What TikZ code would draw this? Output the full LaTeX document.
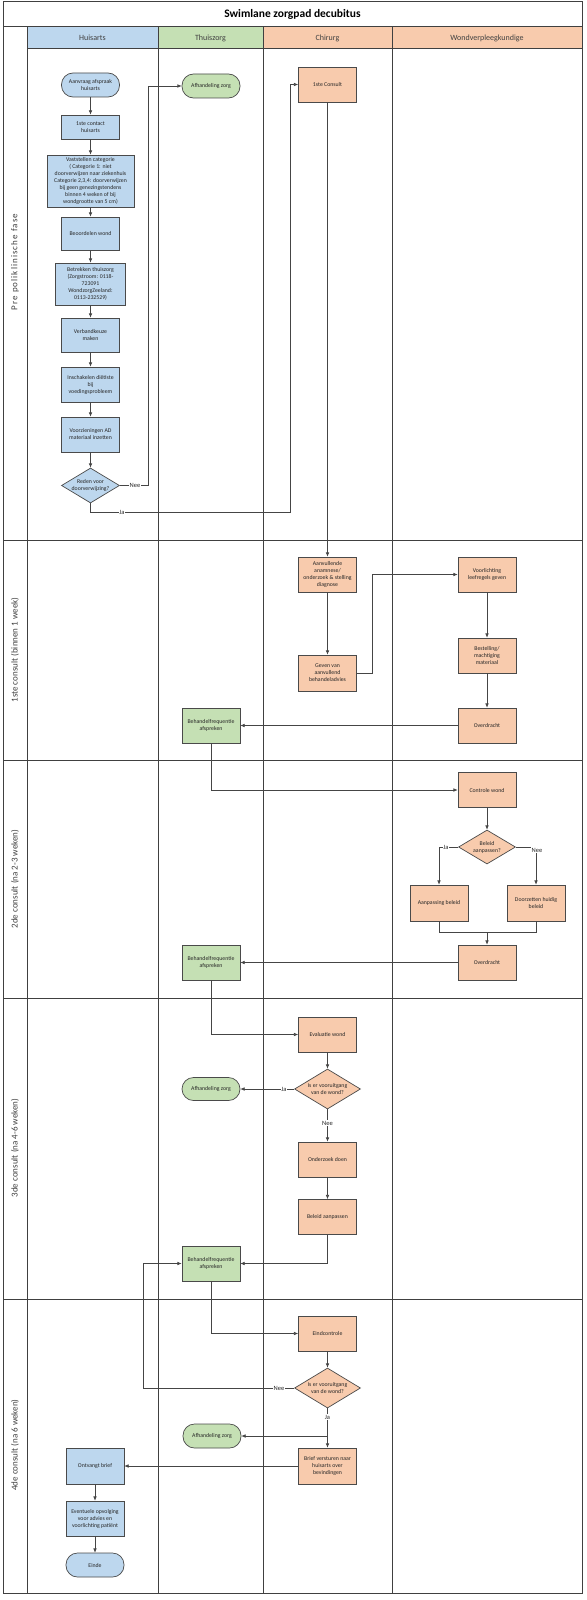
\documentclass[tikz,border=0pt]{standalone}
\usepackage{fontspec}
\setmainfont{Carlito}
\usetikzlibrary{arrows.meta,shapes.geometric}
\definecolor{blu}{HTML}{BDD7EE}
\definecolor{grn}{HTML}{C5E0B4}
\definecolor{org}{HTML}{F8CBAD}
\definecolor{bordc}{HTML}{4A4A4A}
\definecolor{lanec}{HTML}{404040}
\definecolor{linec}{HTML}{454545}
\definecolor{txtc}{HTML}{262626}
\newcommand{\nodefont}{\fontsize{5.8}{7}\selectfont}
\begin{document}
\begin{tikzpicture}[x=1pt,y=-1pt,
  box/.style={draw=bordc, line width=0.7pt, minimum width=58pt, minimum height=35pt, inner sep=1pt, align=center, font=\nodefont, text=txtc},
  hb/.style={box, fill=blu},
  gb/.style={box, fill=grn},
  ob/.style={box, fill=org},
  term/.style={box, rounded corners=11.5pt, minimum height=24pt},
  dia/.style={draw=bordc, line width=0.7pt, diamond, inner sep=0pt, minimum width=58pt, minimum height=35pt},
  dtxt/.style={align=center, font=\nodefont, text=txtc, inner sep=0pt},
  lane/.style={draw=lanec, line width=1pt},
  conn/.style={draw=linec, line width=0.6pt},
  arr/.style={conn, -{Latex[length=4.2pt,width=3.6pt]}},
  lbl/.style={fill=white, inner sep=0.6pt, font=\fontsize{6.5}{7.5}\selectfont, text=txtc},
  hdr/.style={font=\fontsize{8}{10}\selectfont, text=lanec},
  phase/.style={rotate=90, font=\fontsize{9}{11}\selectfont, text=lanec}
]
\useasboundingbox (0,0) rectangle (586,1600);
\fill[white] (0,0) rectangle (586,1600);
% header fills
\fill[blu] (27,27) rectangle (158,49);
\fill[grn] (158,27) rectangle (263,49);
\fill[org] (263,27) rectangle (392,49);
\fill[org] (392,27) rectangle (582,49);
% frame and lanes
\draw[lane] (3,2) rectangle (582,1593);
\draw[lane] (3,27) -- (582,27);
\draw[lane] (27,49) -- (582,49);
\draw[lane] (27,27) -- (27,1593);
\draw[lane] (158,27) -- (158,1593);
\draw[lane] (263,27) -- (263,1593);
\draw[lane] (392,27) -- (392,1593);
\draw[lane] (3,540) -- (582,540);
\draw[lane] (3,760) -- (582,760);
\draw[lane] (3,998) -- (582,998);
\draw[lane] (3,1299) -- (582,1299);
% title and headers
\node[font=\bfseries\fontsize{11.5}{13}\selectfont] (title) at (292.5,14.5) {Swimlane zorgpad decubitus};
\node[hdr] (hh) at (92.5,38) {Huisarts};
\node[hdr] (ht) at (210.5,38) {Thuiszorg};
\node[hdr] (hc) at (327.5,38) {Chirurg};
\node[hdr] (hw) at (487,38) {Wondverpleegkundige};
% phase labels
\node[phase] (p1) at (15,262) {\addfontfeature{LetterSpace=12}Pre poliklinische fase};
\node[phase] (p2) at (15,650) {1ste consult (binnen 1 week)};
\node[phase] (p3) at (15,879) {2de consult (na 2-3 weken)};
\node[phase] (p4) at (15,1148) {3de consult (na 4-6 weken)};
\node[phase] (p5) at (15,1445) {4de consult (na 6 weken)};

% ---- Pre poliklinische fase
\node[term, fill=blu] (h1) at (90.5,85) {Aanvraag afspraak\\huisarts};
\node[hb, minimum height=24pt] (h2) at (90.5,127) {1ste contact\\huisarts};
\node[hb, minimum width=87pt, minimum height=52pt, inner sep=0pt] (h3) at (90.5,181) {Vaststellen categorie\\( Categorie 1: niet\\doorverwijzen naar ziekenhuis\\Categorie 2,3,4: doorverwijzen\\bij geen genezingstendens\\binnen 4 weken of bij\\wondgrootte van 5 cm)};
\node[hb, minimum height=33pt] (h4) at (90.5,233.5) {Beoordelen wond};
\node[hb, minimum width=70pt, minimum height=42pt] (h5) at (90.5,284) {Betrekken thuiszorg\\(Zorgstroom: 0118-\\723091\\WondzorgZeeland:\\0113-232529)};
\node[hb, minimum height=34pt] (h6) at (90.5,335) {Verbandkeuze\\maken};
\node[hb] (h7) at (90.5,384.5) {Inschakelen diëtiste\\bij\\voedingsprobleem};
\node[hb] (h8) at (90.5,434.5) {Voorzieningen AD\\materiaal inzetten};
\node[dia, fill=blu] (hd) at (90.5,485.5) {};
\node[dtxt] (hdt) at (hd) {Reden voor\\doorverwijzing?};
\node[term, fill=grn] (t1) at (211,86) {Afhandeling zorg};
\node[ob] (c1) at (327.5,84.5) {1ste Consult};

\draw[arr] (h1) -- (h2);
\draw[arr] (h2) -- (h3);
\draw[arr] (h3) -- (h4);
\draw[arr] (h4) -- (h5);
\draw[arr] (h5) -- (h6);
\draw[arr] (h6) -- (h7);
\draw[arr] (h7) -- (h8);
\draw[arr] (h8) -- (hd);
\draw[arr] (hd.east) -- (148,485.5) |- (t1.west);
\node[lbl] (l1) at (135,485.5) {Nee};
\draw[arr] (hd.south) |- (290,512) |- (c1.west);
\node[lbl] (l2) at (122,512) {Ja};

% ---- 1ste consult
\node[ob] (c2) at (327.5,574.5) {Aanvullende\\anamnese/\\onderzoek \& stelling\\diagnose};
\node[ob, minimum height=36pt] (c3) at (327.5,673) {Geven van\\aanvullend\\behandeladvies};
\node[ob] (w1) at (487,574.5) {Voorlichting\\leefregels geven};
\node[ob] (w2) at (487,655.5) {Bestelling/\\machtiging\\materiaal};
\node[ob] (w3) at (487,725.5) {Overdracht};
\node[gb] (t2) at (211,725.5) {Behandelfrequentie\\afspreken};

\draw[arr] (c1) -- (c2);
\draw[arr] (c2) -- (c3);
\draw[arr] (c3.east) -- (372,673) |- (w1.west);
\draw[arr] (w1) -- (w2);
\draw[arr] (w2) -- (w3);
\draw[arr] (w3) -- (t2);

% ---- 2de consult
\node[ob] (w4) at (487,790) {Controle wond};
\node[dia, fill=org, minimum width=57pt, minimum height=34pt] (wd) at (487,847) {};
\node[dtxt] (wdt) at (wd) {Beleid\\aanpassen?};
\node[ob, minimum height=36pt] (w5) at (439,903) {Aanpassing beleid};
\node[ob, minimum height=36pt] (w6) at (536,903) {Doorzetten huidig\\beleid};
\node[ob] (w7) at (487,962.5) {Overdracht};
\node[gb] (t3) at (211,962.5) {Behandelfrequentie\\afspreken};
\coordinate (mg) at (487,932);

\draw[arr] (t2.south) |- (w4.west);
\draw[arr] (w4) -- (wd);
\draw[arr] (wd.west) -| (w5.north);
\node[lbl] (l3) at (446,847) {Ja};
\draw[arr] (wd.east) -| (w6.north);
\node[lbl] (l4) at (537,850) {Nee};
\draw[conn] (w5.south) |- (mg);
\draw[conn] (w6.south) |- (mg);
\draw[arr] (mg) -- (w7.north);
\draw[arr] (w7) -- (t3);

% ---- 3de consult
\node[ob] (c4) at (327.5,1034.5) {Evaluatie wond};
\node[dia, fill=org, minimum width=66pt, minimum height=40pt] (cd1) at (327.5,1089) {};
\node[dtxt] (cd1t) at (cd1) {Is er vooruitgang\\van de wond?};
\node[term, fill=grn, minimum height=23pt] (t4) at (211,1089) {Afhandeling zorg};
\node[ob] (c5) at (327.5,1159.5) {Onderzoek doen};
\node[ob] (c6) at (327.5,1217) {Beleid aanpassen};
\node[gb] (t5) at (211,1263.5) {Behandelfrequentie\\afspreken};

\draw[arr] (t3.south) |- (c4.west);
\draw[arr] (c4) -- (cd1);
\draw[arr] (cd1.west) -- (t4.east);
\node[lbl] (l5) at (284,1089) {Ja};
\draw[arr] (cd1.south) -- (c5.north);
\node[lbl] (l6) at (327.5,1123) {Nee};
\draw[arr] (c5) -- (c6);
\draw[arr] (c6.south) |- (t5.east);

% ---- 4de consult
\node[ob] (c7) at (327.5,1333.5) {Eindcontrole};
\node[dia, fill=org, minimum width=66pt, minimum height=40pt] (cd2) at (327.5,1388) {};
\node[dtxt] (cd2t) at (cd2) {Is er vooruitgang\\van de wond?};
\node[term, fill=grn] (t6) at (212,1436) {Afhandeling zorg};
\node[ob, minimum height=36pt] (c8) at (327.5,1466) {Brief versturen naar\\huisarts over\\bevindingen};
\node[hb, minimum height=36pt] (h9) at (95,1466) {Ontvangt brief};
\node[hb] (h10) at (95,1518.5) {Eventuele opvolging\\voor advies en\\voorlichting patiënt};
\node[term, fill=blu] (h11) at (95,1565) {Einde};
\coordinate (br) at (327.5,1436);

\draw[arr] (t5.south) |- (c7.west);
\draw[arr] (c7) -- (cd2);
\draw[arr] (cd2.west) -- (143,1388) |- (t5.west);
\node[lbl] (l7) at (279,1388) {Nee};
\draw[arr] (cd2.south) -- (c8.north);
\node[lbl] (l8) at (327.5,1417) {Ja};
\draw[arr] (br) -- (t6.east);
\draw[arr] (c8.west) -- (h9.east);
\draw[arr] (h9) -- (h10);
\draw[arr] (h10) -- (h11);
\end{tikzpicture}
\end{document}
